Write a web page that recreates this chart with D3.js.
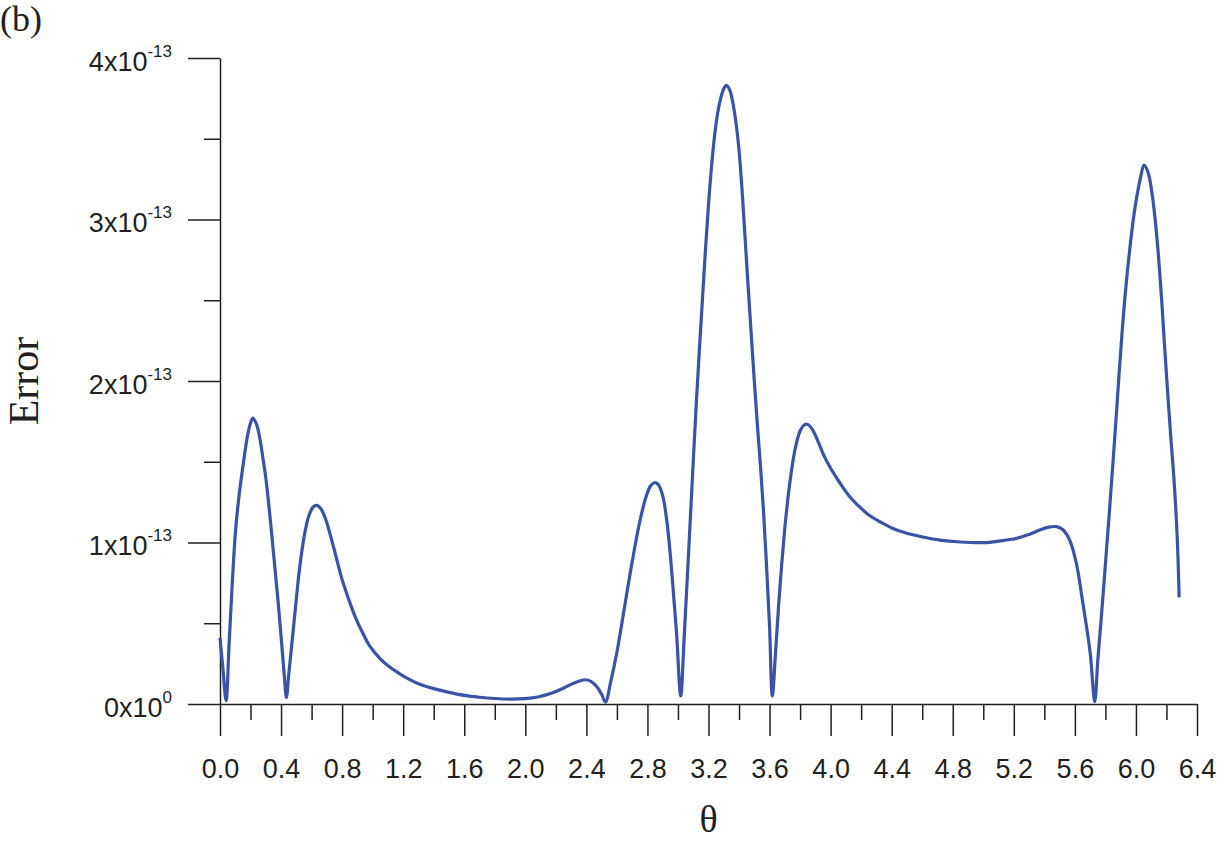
<!DOCTYPE html>
<html>
<head>
<meta charset="utf-8">
<script src="https://cdn.jsdelivr.net/npm/d3@7"></script>
<style>
  body { margin: 0; background: #fff; }
  svg { display: block; }
</style>
</head>
<body>
<div id="chart"></div>
<script>
// theta (rad) and error in units of 1e-13
var theta = [
  0.000, 0.020, 0.040, 0.060, 0.080, 0.100, 0.120, 0.150, 0.180, 0.200,
  0.216, 0.240, 0.260, 0.280, 0.300, 0.320, 0.340, 0.360, 0.380, 0.400,
  0.420, 0.435, 0.450, 0.480, 0.500, 0.520, 0.550, 0.580, 0.610, 0.636,
  0.660, 0.690, 0.710, 0.750, 0.800, 0.850, 0.890, 0.940, 0.980, 1.050,
  1.110, 1.180, 1.240, 1.300, 1.400, 1.500, 1.610, 1.700, 1.800, 1.900,
  2.000, 2.090, 2.170, 2.250, 2.320, 2.390, 2.430, 2.470, 2.500, 2.525,
  2.560, 2.600, 2.650, 2.700, 2.750, 2.790, 2.820, 2.845, 2.870, 2.900,
  2.930, 2.960, 2.990, 3.018, 3.040, 3.060, 3.080, 3.100, 3.120, 3.140,
  3.160, 3.180, 3.200, 3.220, 3.240, 3.260, 3.280, 3.300, 3.317, 3.340,
  3.360, 3.380, 3.400, 3.420, 3.440, 3.460, 3.480, 3.500, 3.520, 3.540,
  3.560, 3.580, 3.600, 3.618, 3.640, 3.660, 3.680, 3.700, 3.720, 3.740,
  3.770, 3.800, 3.830, 3.852, 3.880, 3.920, 3.960, 4.000, 4.060, 4.120,
  4.190, 4.250, 4.320, 4.400, 4.500, 4.600, 4.714, 4.850, 5.000, 5.100,
  5.220, 5.300, 5.370, 5.430, 5.480, 5.520, 5.566, 5.610, 5.653, 5.700,
  5.730, 5.750, 5.770, 5.790, 5.810, 5.830, 5.850, 5.870, 5.890, 5.910,
  5.930, 5.960, 5.980, 6.000, 6.030, 6.053, 6.080, 6.110, 6.140, 6.170,
  6.190, 6.210, 6.230, 6.250, 6.270, 6.283
];

var errorE13 = [
  0.41, 0.21, 0.02, 0.38, 0.74, 1.05, 1.25, 1.47, 1.66, 1.74,
  1.77, 1.73, 1.65, 1.53, 1.40, 1.23, 1.04, 0.84, 0.64, 0.42,
  0.19, 0.04, 0.18, 0.46, 0.65, 0.83, 1.03, 1.16, 1.22, 1.23,
  1.21, 1.15, 1.09, 0.95, 0.77, 0.63, 0.53, 0.43, 0.36, 0.28,
  0.23, 0.185, 0.152, 0.125, 0.095, 0.072, 0.052, 0.042, 0.034, 0.030,
  0.033, 0.045, 0.066, 0.098, 0.13, 0.15, 0.14, 0.105, 0.06, 0.012,
  0.14, 0.32, 0.60, 0.88, 1.13, 1.28, 1.35, 1.37, 1.36, 1.29,
  1.11, 0.81, 0.45, 0.05, 0.40, 0.76, 1.13, 1.50, 1.86, 2.19,
  2.50, 2.81, 3.09, 3.33, 3.52, 3.66, 3.75, 3.81, 3.83, 3.80,
  3.72, 3.60, 3.43, 3.18, 2.88, 2.58, 2.29, 2.00, 1.73, 1.48,
  1.20, 0.86, 0.48, 0.05, 0.33, 0.62, 0.87, 1.09, 1.27, 1.42,
  1.59, 1.69, 1.73, 1.73, 1.70, 1.62, 1.53, 1.46, 1.37, 1.29,
  1.22, 1.17, 1.13, 1.09, 1.057, 1.035, 1.015, 1.003, 0.999, 1.008,
  1.026, 1.05, 1.077, 1.095, 1.098, 1.08, 1.015, 0.87, 0.62, 0.32,
  0.014, 0.27, 0.50, 0.74, 0.99, 1.24, 1.50, 1.77, 2.05, 2.31,
  2.54, 2.82, 2.98, 3.11, 3.26, 3.337, 3.29, 3.13, 2.86, 2.48,
  2.18, 1.90, 1.63, 1.38, 1.04, 0.66
];

var xMajorTicks = [0, 0.4, 0.8, 1.2, 1.6, 2.0, 2.4, 2.8, 3.2, 3.6, 4.0, 4.4, 4.8, 5.2, 5.6, 6.0, 6.4];
var xMinorTicks = [0.2, 0.6, 1.0, 1.4, 1.8, 2.2, 2.6, 3.0, 3.4, 3.8, 4.2, 4.6, 5.0, 5.4, 5.8, 6.2];
var yMajorTicks = [0, 1, 2, 3, 4];
var yMinorTicks = [0.5, 1.5, 2.5, 3.5];

var width = 1221, height = 842;
var x0 = 220, x1 = 1197, yTop = 58, yBottom = 704;

var lineColor = '#3953a6';
var axisColor = '#231f20';
var sansFont = '"Liberation Sans", Arial, Helvetica, sans-serif';
var serifFont = '"Liberation Serif", "Times New Roman", Times, serif';

var svg = d3.select('#chart')
    .append('svg')
    .attr('width', width)
    .attr('height', height);

var x_scale = d3.scaleLinear().domain([0, 6.4]).range([x0, x1]);
var y_scale = d3.scaleLinear().domain([0, 4]).range([yBottom, yTop]);

// x axis: major (labelled) and minor ticks
svg.append('g')
    .attr('transform', 'translate(0,' + yBottom + ')')
    .call(d3.axisBottom(x_scale)
        .tickValues(xMajorTicks)
        .tickSize(32)
        .tickSizeOuter(0)
        .tickPadding(23)
        .tickFormat(d3.format('.1f')));

svg.append('g')
    .attr('transform', 'translate(0,' + yBottom + ')')
    .call(d3.axisBottom(x_scale)
        .tickValues(xMinorTicks)
        .tickSize(16)
        .tickFormat(''))
    .call(function(g) { g.select('.domain').remove(); });

// y axis
var y_axis = svg.append('g')
    .attr('transform', 'translate(' + x0 + ',0)')
    .call(d3.axisLeft(y_scale)
        .tickValues(yMajorTicks)
        .tickSize(32)
        .tickSizeOuter(0)
        .tickPadding(16)
        .tickFormat(function(d) { return d + 'x10'; }));

svg.append('g')
    .attr('transform', 'translate(' + x0 + ',0)')
    .call(d3.axisLeft(y_scale)
        .tickValues(yMinorTicks)
        .tickSize(16)
        .tickFormat(''))
    .call(function(g) { g.select('.domain').remove(); });

// superscript exponents on y labels
y_axis.selectAll('.tick text')
    .attr('dy', '0.45em')
    .each(function(d) {
        var t = d3.select(this);
        t.text('');
        t.append('tspan').text(d + 'x10');
        t.append('tspan')
            .attr('dy', -14)
            .attr('font-size', '17px')
            .text(d === 0 ? '0' : '-13');
    });

svg.selectAll('.domain, .tick line')
    .attr('stroke', axisColor)
    .attr('stroke-width', 1.5);

svg.selectAll('.tick text')
    .attr('fill', axisColor)
    .style('font-family', sansFont)
    .style('font-size', '27px');

// the curve
var points = theta.map(function(t, i) { return [t, errorE13[i]]; });

var line = d3.line()
    .x(function(d) { return x_scale(d[0]); })
    .y(function(d) { return y_scale(d[1]); })
    .curve(d3.curveCatmullRom.alpha(0.5));

svg.append('path')
    .datum(points)
    .attr('fill', 'none')
    .attr('stroke', lineColor)
    .attr('stroke-width', 3.2)
    .attr('stroke-linejoin', 'round')
    .attr('d', line);

// axis titles and panel label
svg.append('text')
    .attr('transform', 'translate(38,' + ((yTop + yBottom) / 2) + ') rotate(-90)')
    .attr('text-anchor', 'middle')
    .style('font-family', serifFont)
    .style('font-size', '42px')
    .attr('fill', axisColor)
    .text('Error');

svg.append('text')
    .attr('x', (x0 + x1) / 2)
    .attr('y', 832)
    .attr('text-anchor', 'middle')
    .style('font-family', serifFont)
    .style('font-size', '38px')
    .attr('fill', axisColor)
    .text('θ');

svg.append('text')
    .attr('x', 0)
    .attr('y', 31)
    .style('font-family', serifFont)
    .style('font-size', '36px')
    .attr('fill', axisColor)
    .text('(b)');
</script>
</body>
</html>
